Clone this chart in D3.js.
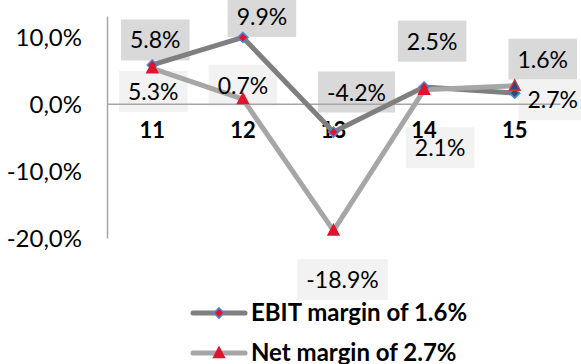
<!DOCTYPE html>
<html>
<head>
<meta charset="utf-8">
<script src="https://cdn.jsdelivr.net/npm/d3@7"></script>
<style>
  html, body { margin: 0; padding: 0; background: #ffffff; }
  svg { display: block; font-family: Lato, "Open Sans", sans-serif; }
</style>
</head>
<body>
<svg id="chart" width="581" height="364"></svg>
<script>
// Years (two-digit) on the category axis
const categories = ["11", "12", "13", "14", "15"];
// Margins in percent
const ebitMargin = [5.8, 9.9, -4.2, 2.5, 1.6];
const netMargin = [5.3, 0.7, -18.9, 2.1, 2.7];
// Value axis ticks
const yTicks = [-20, -10, 0, 10];
// Legend entries
const seriesNames = ["EBIT margin of 1.6%", "Net margin of 2.7%"];

const svg = d3.select("#chart");

const x = d3.scaleBand().domain(categories).range([107, 560]).paddingInner(0).paddingOuter(0);
const cx = d => x(d) + x.bandwidth() / 2;
const y = d3.scaleLinear().domain([-20, 13.1]).range([238, 16]);

// Axis uses a decimal comma, labels a decimal point; both with a plain hyphen minus
const commaLocale = d3.formatLocale({ decimal: ",", thousands: ".", grouping: [3], currency: ["", "€"], minus: "-" });
const pointLocale = d3.formatLocale({ decimal: ".", thousands: ",", grouping: [3], currency: ["$", ""], minus: "-" });
const tickFmt = v => commaLocale.format(".1f")(v) + "%";
const labelFmt = v => pointLocale.format(".1f")(v) + "%";

const labelLayer = svg.append("g");
const axisLayer = svg.append("g");
const lineLayer = svg.append("g");
const markerLayer = svg.append("g");
const textLayer = svg.append("g");

// Value axis
const yAxis = axisLayer.append("g")
  .attr("transform", "translate(107,0)")
  .call(d3.axisLeft(y).tickValues(yTicks).tickFormat(tickFmt).tickSize(0).tickPadding(25));
yAxis.select(".domain").attr("stroke", "#a6a6a6").attr("stroke-width", 1.5);
yAxis.selectAll("text")
  .attr("fill", "#000").attr("font-size", 24).attr("font-family", "Lato, sans-serif")
  .attr("dy", "0.35em");

// Category axis along the zero line
const xAxis = axisLayer.append("g")
  .attr("transform", `translate(0,${y(0)})`)
  .call(d3.axisBottom(x).tickSize(0).tickSizeOuter(0));
xAxis.select(".domain").attr("stroke", "#a6a6a6").attr("stroke-width", 1.5);
xAxis.selectAll("text")
  .attr("fill", "#000").attr("font-size", 22).attr("font-weight", "bold")
  .attr("font-family", "Lato, sans-serif")
  .attr("y", 34).attr("dy", 0);

// Series definitions: styling and per-point label placement
const series = [
  {
    values: ebitMargin, color: "#7f7f7f", box: "#d9d9d9", marker: "diamond",
    offsets: [[3, -25], [19, -21], [23, -40], [8, -46], [28, -34]]
  },
  {
    values: netMargin, color: "#a6a6a6", box: "#f2f2f2", marker: "triangle",
    offsets: [[1, 23], [0, -14], [9, 49], [16, 58], [38, 14]]
  }
];

const line = d3.line().x((d, i) => cx(categories[i])).y(d => y(d));

function drawMarker(sel, kind, px, py, last) {
  if (kind === "diamond") {
    sel.append("path")
      .attr("d", `M${px},${py - 5}L${px + 5},${py}L${px},${py + 5}L${px - 5},${py}Z`)
      .attr("fill", last ? "#2e4d7f" : "#e0142c")
      .attr("stroke", "#4f86cf").attr("stroke-width", 1.6);
  } else {
    sel.append("path")
      .attr("d", `M${px},${py - 6}L${px + 5.5},${py + 4.5}L${px - 5.5},${py + 4.5}Z`)
      .attr("fill", last ? "#2e4d7f" : "#e0142c")
      .attr("stroke", last ? "#d9323f" : "#e0142c").attr("stroke-width", 1.4);
  }
}

series.forEach(s => {
  lineLayer.append("path")
    .datum(s.values)
    .attr("d", line)
    .attr("fill", "none")
    .attr("stroke", s.color)
    .attr("stroke-width", 5)
    .attr("stroke-linejoin", "round");
});

series.forEach(s => {
  s.values.forEach((v, i) => {
    const px = cx(categories[i]), py = y(v);
    drawMarker(markerLayer, s.marker, px, py, i === categories.length - 1);
    const lx = px + s.offsets[i][0], ly = py + s.offsets[i][1];
    const t = textLayer.append("text")
      .attr("x", lx).attr("y", ly + 8.5)
      .attr("text-anchor", "middle")
      .attr("font-size", 23)
      .attr("fill", "#000")
      .text(labelFmt(v));
    const w = t.node().getComputedTextLength() + 18;
    labelLayer.append("rect")
      .attr("x", lx - w / 2).attr("y", ly - 20.5)
      .attr("width", w).attr("height", 41)
      .attr("fill", s.box);
  });
});

// Legend
const legend = svg.append("g");
series.forEach((s, i) => {
  const ly = 313 + i * 40;
  legend.append("line")
    .attr("x1", 193).attr("x2", 245).attr("y1", ly).attr("y2", ly)
    .attr("stroke", s.color).attr("stroke-width", 5).attr("stroke-linecap", "round");
  drawMarker(legend, s.marker, 219, ly, false);
  legend.append("text")
    .attr("x", 251).attr("y", ly + 7.5)
    .attr("font-size", 24).attr("font-weight", "bold").attr("fill", "#000")
    .text(seriesNames[i]);
});
</script>
</body>
</html>
